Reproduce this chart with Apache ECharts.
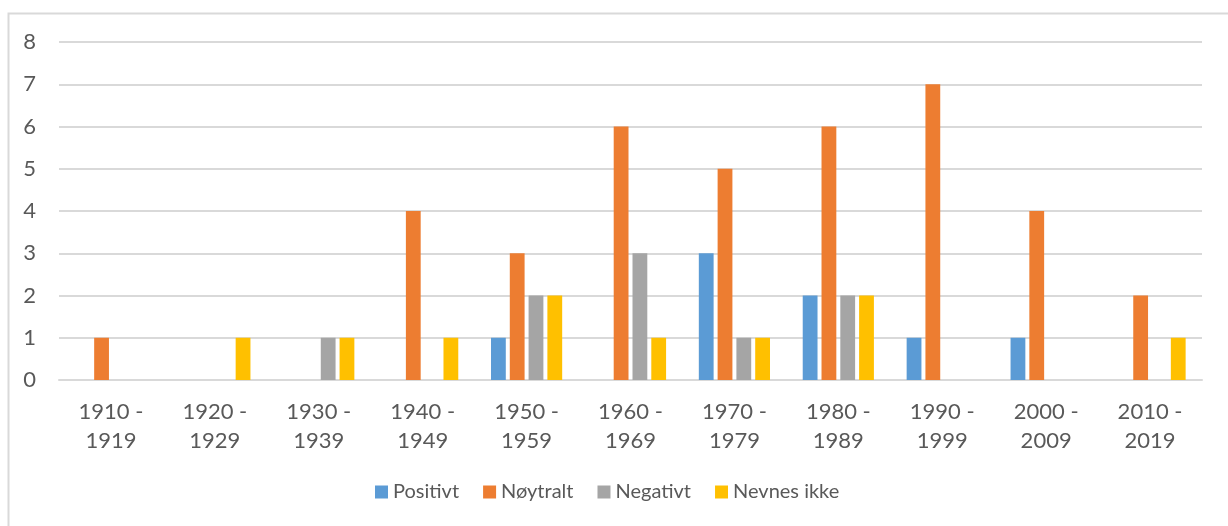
<!DOCTYPE html>
<html>
<head>
<meta charset="utf-8">
<script src="https://cdn.jsdelivr.net/npm/echarts@6/dist/echarts.min.js"></script>
<style>
html,body{margin:0;padding:0;background:#fff;}
#chart{width:1228px;height:526px;}
</style>
</head>
<body>
<div id="chart"></div>
<script>
const categories = ["1910 -\n1919","1920 -\n1929","1930 -\n1939","1940 -\n1949","1950 -\n1959","1960 -\n1969","1970 -\n1979","1980 -\n1989","1990 -\n1999","2000 -\n2009","2010 -\n2019"];
const positivt   = [0,0,0,0,1,0,3,2,1,1,0];
const noytralt   = [1,0,0,4,3,6,5,6,7,4,2];
const negativt   = [0,0,1,0,2,3,1,2,0,0,0];
const nevnesIkke = [0,1,1,1,2,1,1,2,0,0,1];
const seriesNames = ["Positivt","Nøytralt","Negativt","Nevnes ikke"];
const colors = ["#5B9BD5","#ED7D31","#A5A5A5","#FFC000"];

const FONT = "Lato, 'Noto Sans', sans-serif";
const chart = echarts.init(document.getElementById('chart'));
const dataSets = [positivt, noytralt, negativt, nevnesIkke];
chart.setOption({
  animation: false,
  color: colors,
  textStyle: {fontFamily: FONT},
  graphic: [{
    type: 'rect', left: 6, top: 11, silent: true,
    shape: {x: 0, y: 0, width: 1260, height: 600},
    style: {fill: 'none', stroke: '#d9d9d9', lineWidth: 2}
  }],
  grid: {left: 59, right: 26, top: 42, bottom: 146},
  legend: {
    bottom: 19, left: 370,
    itemWidth: 13, itemHeight: 13, itemGap: 24,
    icon: 'rect',
    textStyle: {fontSize: 20, color: '#595959', fontFamily: FONT},
    data: seriesNames
  },
  xAxis: {
    type: 'category', data: categories,
    axisLine: {show: true, lineStyle: {color: '#d9d9d9', width: 2}},
    axisTick: {show: false},
    axisLabel: {color: '#595959', fontSize: 22, lineHeight: 28.5, margin: 18, interval: 0, fontFamily: FONT}
  },
  yAxis: {
    type: 'value', min: 0, max: 8, interval: 1,
    axisLine: {show: false}, axisTick: {show: false},
    splitLine: {lineStyle: {color: '#d9d9d9', width: 2}},
    axisLabel: {color: '#595959', fontSize: 22, margin: 23, fontFamily: FONT}
  },
  series: seriesNames.map((n, i) => ({
    name: n, type: 'bar', data: dataSets[i],
    barGap: '27%', barCategoryGap: '31.5%'
  }))
});
</script>
</body>
</html>
